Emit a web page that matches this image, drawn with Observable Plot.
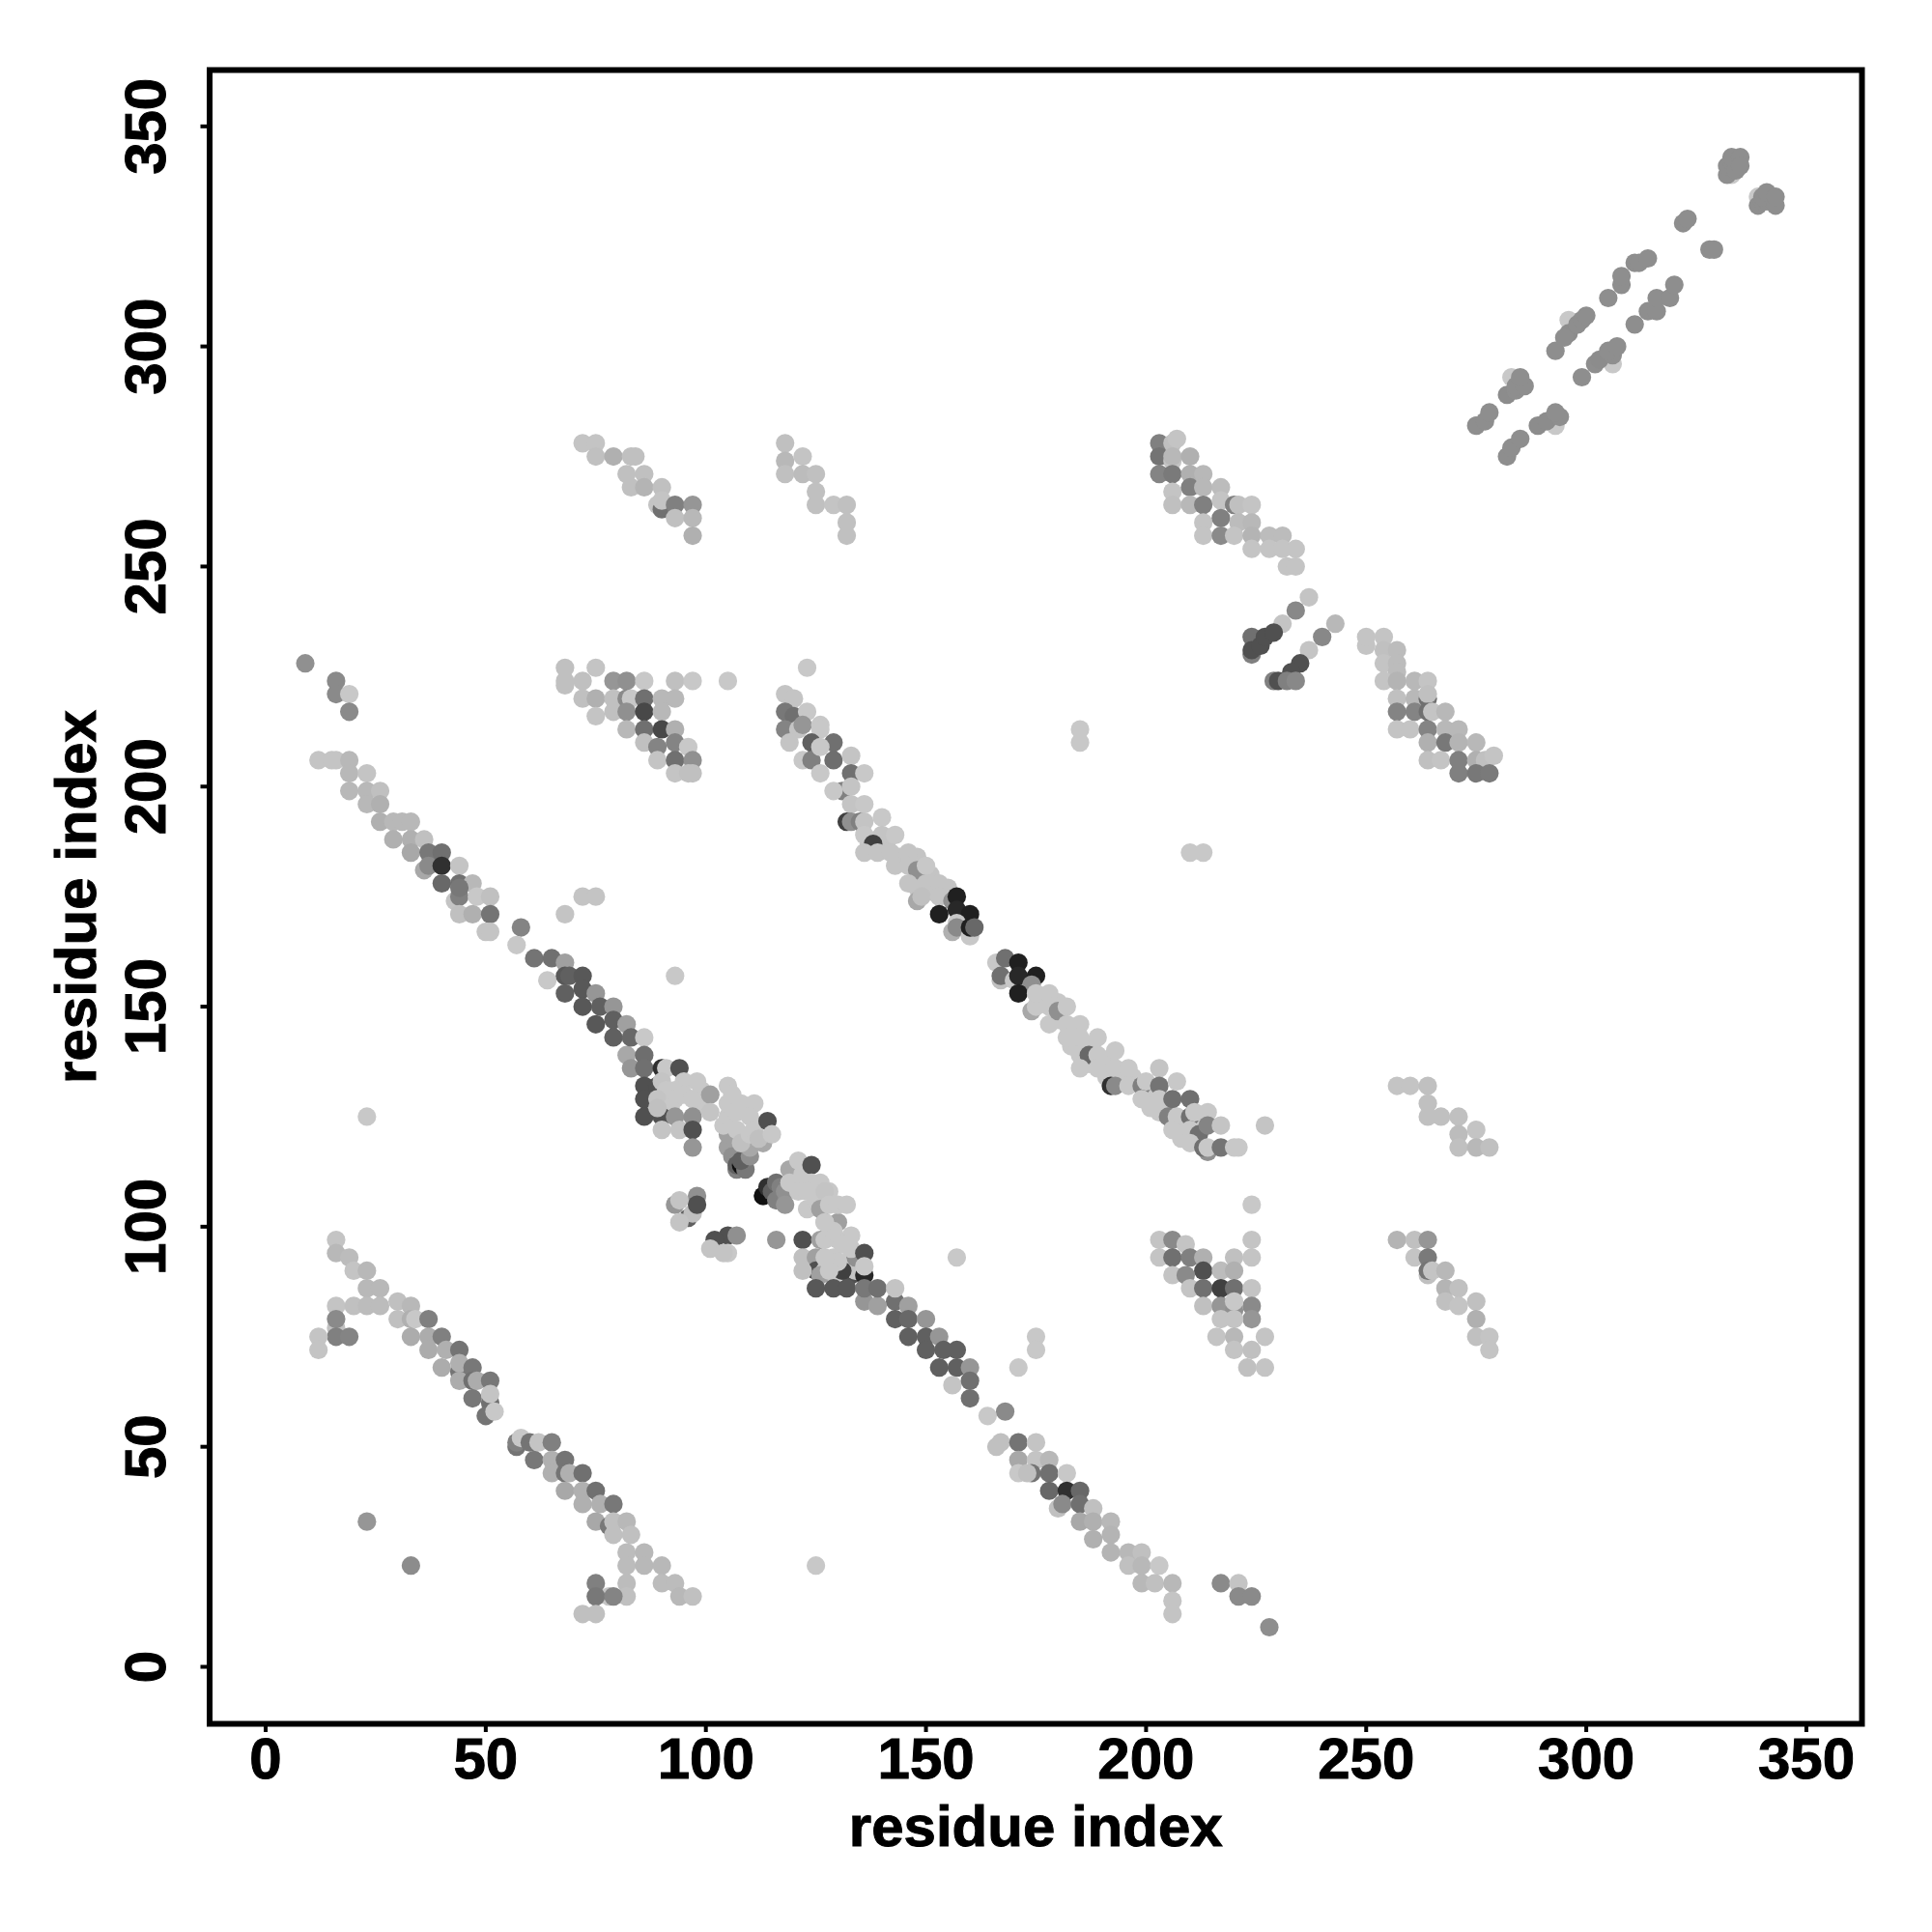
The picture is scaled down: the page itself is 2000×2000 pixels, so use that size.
<!DOCTYPE html>
<html><head><meta charset="utf-8">
<style>html,body{margin:0;padding:0;background:#fff}svg{display:block}svg text{stroke:#000;stroke-width:1px;paint-order:stroke}</style>
<script src="https://cdn.jsdelivr.net/npm/d3@7"></script>
<script src="https://cdn.jsdelivr.net/npm/@observablehq/plot@0.6"></script>
</head><body><div id="chart"></div>
<script>
// each point: [residue i, residue j, shade score 0 (darkest) .. 100 (lightest)]
const arcLow = [[16,97,98],[16,94,92],[19,93,94],[20,90,98],[23,90,92],[23,86,92],[26,86,92],[16,82,98],[20,82,96],[23,82,94],[26,82,94],[30,83,96],[33,82,92],[30,79,96],[33,79,88],[34,79,100],[37,79,64],[16,77,96],[16,79,69],[16,75,64],[19,75,66],[12,75,98],[12,72,98],[33,75,86],[37,75,86],[37,72,86],[40,75,64],[41,72,88],[44,72,58],[40,68,86],[44,67,58],[44,69,88],[44,65,86],[47,68,60],[47,65,56],[48,65,86],[51,65,60],[47,61,60],[51,60,56],[51,62,98],[50,57,58],[52,58,100],[57,50,58],[57,51,64],[58,52,100],[60,51,58],[62,51,98],[61,47,60],[65,51,64],[66,46,58],[65,47,88],[65,44,88],[68,47,58],[68,44,58],[69,44,88],[72,44,56],[68,40,84],[72,40,88],[75,40,56],[72,37,88],[76,37,88],[79,37,60],[75,33,84],[78,32,60],[79,33,96],[82,33,92],[79,30,96],[83,30,96],[82,26,94],[86,26,92],[82,23,94],[86,23,92],[90,23,92],[82,19,94],[90,19,94],[93,19,94],[82,16,96],[94,16,92],[97,16,96],[78,16,98],[75,19,64],[75,16,60],[79,16,66],[72,12,96],[75,12,96],[23,33,75],[33,23,70]];

const arcMid = [[116,97,75],[122,97,40],[126,97,80],[130,101,80],[127,101,98],[130,97,100],[133,98,100],[122,93,96],[125,93,80],[125,90,40],[129,93,100],[133,93,100],[122,90,96],[127,90,98],[129,89,100],[133,89,40],[134,90,98],[131,90,32],[126,89,80],[134,93,72],[127,97,100],[129,99,100],[131,96,100],[130,92,100],[127,93,100],[128,90,100],[133,95,100],[136,94,40],[136,89,20],[136,91,100],[125,86,44],[129,86,44],[132,86,44],[136,83,75],[136,86,60],[139,82,80],[139,86,56],[143,83,56],[143,86,98],[146,82,80],[143,79,48],[146,79,52],[150,79,75],[146,75,48],[150,75,48],[153,75,75],[150,72,48],[154,72,48],[157,72,48],[153,68,48],[157,68,48],[160,68,75],[156,64,98],[160,65,56],[160,61,56],[164,57,100],[168,58,69],[167,51,96],[166,50,96],[171,51,58],[175,51,98],[171,47,84],[175,47,98],[178,47,92],[171,44,100],[174,44,58],[173,44,96],[178,44,56],[182,44,100],[178,40,52],[182,40,24],[185,40,52],[180,36,96],[181,37,69],[185,37,56],[188,36,96],[185,33,84],[188,33,88],[192,33,92],[188,29,88],[192,30,90],[192,26,90],[196,26,92],[199,26,96],[196,23,96],[199,23,92],[203,23,100],[199,19,92],[202,19,96],[206,19,92],[206,15,98],[206,12,98],[217,19,69],[221,19,98],[221,16,69],[224,16,69],[228,9,71],[125,23,100],[157,93,100],[175,75,100],[175,72,100],[171,68,100]];

const blockLow = [[203,97,98],[203,93,98],[206,97,69],[209,96,98],[206,93,56],[206,89,98],[210,93,64],[209,89,69],[213,93,88],[213,90,40],[210,86,98],[213,86,56],[217,90,94],[220,93,96],[220,90,88],[217,86,32],[220,86,56],[224,105,100],[224,97,98],[224,93,98],[224,86,98],[224,82,69],[224,79,75],[213,82,96],[217,82,75],[220,81,72],[220,83,100],[217,79,98],[220,79,98],[216,75,98],[220,75,92],[227,75,98],[220,72,98],[224,72,96],[223,68,96],[227,68,98],[105,98,40],[107,98,72],[105,94,100]];

const diagHigh = [[9,228,72],[16,224,69],[16,221,69],[19,221,100],[19,217,69],[12,206,98],[15,206,98],[16,206,98],[19,206,92],[19,203,92],[23,203,98],[19,199,92],[23,199,92],[26,199,96],[23,196,92],[26,196,88],[26,192,88],[29,192,92],[31,192,92],[33,192,92],[29,188,88],[33,188,88],[36,188,96],[33,185,84],[37,185,60],[40,185,56],[36,181,84],[37,182,69],[40,182,24],[44,182,98],[40,178,52],[44,178,56],[47,178,92],[43,174,98],[44,175,64],[44,177,60],[48,175,100],[51,175,96],[44,171,96],[47,171,88],[51,171,58],[50,167,98],[51,167,98],[58,168,66],[57,164,100],[61,161,58],[65,161,56],[68,160,80],[64,156,100],[68,157,44],[69,157,48],[72,157,44],[68,153,48],[72,154,44],[75,153,75],[72,150,44],[76,150,48],[79,150,75],[75,146,44],[79,147,48],[79,143,48],[82,146,80],[82,139,84],[83,143,52],[86,143,100],[83,136,75],[86,139,55],[86,136,56],[86,132,40],[86,129,40],[86,125,40],[90,136,24],[91,136,100],[94,136,40],[89,132,40],[90,133,98],[95,133,100],[91,131,100],[93,131,100],[98,133,100],[95,130,100],[99,131,100],[99,128,100],[89,129,98],[93,129,100],[97,129,100],[92,127,100],[90,125,40],[89,127,96],[93,125,75],[97,125,72],[90,122,98],[94,122,98],[97,122,40],[97,118,75],[101,130,80],[101,126,98],[68,171,98],[72,175,98],[75,175,98],[93,157,100],[23,125,100]];

const knotA = [[105,118,80],[105,121,80],[106,116,72],[107,113,64],[107,114,48],[108,114,8],[109,113,60],[108,115,48],[110,116,72],[110,118,84],[113,119,84],[104,123,100],[105,125,100],[105,128,100],[105,132,100],[106,130,100],[107,126,100],[107,122,100],[108,128,100],[108,119,96],[111,128,100],[110,125,100],[110,121,100],[111,122,100],[112,120,96],[114,124,40],[115,121,100]];

const knotB = [[113,107,48],[113,107,8],[114,109,24],[115,108,48],[116,106,64],[116,110,56],[117,109,64],[118,108,72],[118,105,75],[119,113,84],[121,115,100],[119,110,100],[121,110,100],[121,108,100],[122,112,100],[124,114,40],[124,110,100],[123,108,100],[123,104,100],[125,106,100],[126,110,100],[128,108,100],[127,108,98],[126,104,80],[128,105,100],[130,105,100],[132,105,100],[127,101,100],[93,105,75],[94,106,98],[96,102,48],[97,103,96],[94,101,98],[98,107,72],[98,105,40],[102,97,40],[101,95,98],[104,94,98]];

const diagUpper = [[137,187,100],[141,187,98],[144,184,98],[148,184,98],[151,180,98],[155,177,98],[148,177,98],[152,176,98],[176,151,100],[180,151,100],[180,147,100],[184,145,100],[187,141,100],[183,141,100],[187,137,100],[191,138,100],[191,134,100],[194,134,100],[197,134,100],[201,131,100],[201,127,100],[205,127,100],[208,123,100],[212,124,100],[208,120,100],[118,221,98],[120,220,98],[123,227,100],[118,217,60],[120,216,56],[123,217,100],[118,213,66],[121,213,98],[122,214,75],[126,214,100],[126,213,100],[119,210,98],[124,210,48],[122,206,100],[124,206,64],[129,210,56],[129,206,55],[126,209,100],[126,203,100],[133,207,98],[133,203,56],[136,203,100],[131,199,64],[129,199,100],[133,200,98],[133,196,98],[136,196,100],[132,192,32],[133,192,72],[135,192,64],[136,192,98],[140,193,100],[136,189,100],[140,189,98],[143,189,100],[138,187,32],[136,185,98],[139,185,98],[142,185,98],[146,185,98],[143,182,98],[146,182,98],[148,181,72],[150,182,100],[146,178,98],[150,178,98],[153,178,98],[148,174,84],[149,175,96],[153,175,98],[156,174,72],[157,175,16],[153,171,16],[157,172,20],[160,171,16],[157,169,100],[156,167,88],[157,168,69],[160,166,100],[160,168,16],[161,168,52],[166,160,100],[168,161,56],[171,160,16],[167,156,96],[167,157,56],[170,156,100],[171,157,20],[175,157,16],[174,155,72],[171,153,16],[174,149,84],[175,150,100],[175,153,100],[178,153,100],[178,150,100],[178,146,100],[180,149,72],[182,150,100],[182,146,100],[185,146,100],[182,143,100],[185,143,100],[189,143,100],[185,139,100],[187,139,52],[189,139,100],[193,140,100],[185,136,100],[189,136,100],[193,136,100],[196,136,100],[192,132,24],[193,132,69],[196,132,100],[199,132,64],[200,133,100],[203,136,98],[203,132,58],[207,133,100],[199,129,100],[203,129,100],[206,129,56],[210,129,56],[203,126,100],[205,125,64],[207,125,100],[210,125,56],[211,126,100],[214,126,100],[206,122,100],[210,122,100],[212,121,56],[214,123,66],[217,123,98],[210,119,100],[214,117,72],[213,118,56],[214,118,100],[217,118,58],[220,118,100],[221,118,100],[227,123,98],[185,213,100],[185,210,100],[210,185,100],[213,185,100]];

const blockUpL = [[68,227,96],[75,227,98],[68,224,96],[72,224,96],[68,223,96],[79,224,75],[82,224,72],[86,224,100],[93,224,96],[97,224,100],[105,224,100],[72,220,96],[75,220,88],[79,220,96],[82,220,69],[83,220,100],[86,220,56],[90,220,92],[93,220,92],[75,216,98],[79,217,96],[82,217,72],[86,217,36],[90,217,92],[82,213,92],[86,213,56],[90,213,36],[93,213,88],[86,210,96],[89,209,66],[93,210,66],[96,209,100],[89,206,98],[93,206,56],[97,206,72],[93,203,98],[96,203,96],[97,203,96]];

const blockTopL = [[72,278,98],[75,278,98],[75,275,96],[79,275,88],[83,275,96],[84,275,96],[82,271,96],[86,271,96],[83,268,96],[86,268,90],[90,268,96],[89,264,98],[90,263,56],[90,265,98],[93,264,64],[97,264,75],[93,261,96],[97,261,92],[97,257,88],[118,278,96],[118,274,92],[118,271,96],[122,275,98],[122,271,94],[125,271,96],[125,267,96],[125,264,96],[129,264,98],[132,264,96],[132,260,96],[132,257,96]];

const blockTopR = [[203,278,64],[203,275,58],[203,271,66],[206,278,96],[207,279,98],[206,274,98],[206,275,92],[206,271,61],[210,275,88],[206,267,98],[210,271,88],[210,268,64],[213,271,92],[213,268,92],[206,264,96],[210,264,92],[213,264,64],[217,268,94],[217,265,98],[213,260,98],[213,257,98],[217,261,64],[217,257,69],[220,264,64],[221,264,96],[224,264,98],[221,260,94],[224,260,92],[220,257,98],[224,257,90],[224,254,98],[228,257,94],[231,257,94],[228,254,98],[231,254,98],[234,254,98],[232,250,98],[234,250,98]];

const strand = [[237,243,98],[234,240,68],[231,237,98],[224,234,56],[224,230,64],[224,231,40],[226,232,40],[227,234,40],[229,235,40],[243,237,92],[240,234,68],[237,231,98],[235,228,40],[233,226,40],[229,224,64],[230,224,40],[232,224,64],[234,224,68]];

const blockRight = [[250,232,98],[250,234,98],[254,234,98],[254,231,96],[257,231,94],[254,228,98],[257,228,94],[257,226,94],[254,224,98],[257,224,90],[261,224,92],[264,224,98],[257,220,96],[261,220,92],[264,220,56],[264,221,96],[257,217,66],[261,217,66],[264,217,56],[265,217,98],[268,217,92],[257,213,98],[260,213,98],[264,213,66],[268,213,92],[271,213,92],[264,210,88],[268,210,60],[271,210,90],[275,210,92],[264,206,96],[267,206,98],[271,206,64],[275,206,88],[277,206,96],[279,207,98],[271,203,64],[275,203,60],[278,203,61]];

const blockEdge = [[257,132,98],[260,132,98],[264,132,96],[264,128,96],[264,125,96],[267,125,96],[271,125,96],[271,121,94],[275,122,98],[271,118,96],[275,118,92],[278,118,96],[257,97,90],[261,97,96],[264,97,75],[261,93,98],[264,93,61],[264,89,96],[264,90,58],[265,90,98],[268,90,92],[268,86,90],[271,86,96],[268,83,96],[271,82,98],[275,83,96],[275,79,88],[275,75,96],[278,75,98],[278,72,98]];

const strandTop = [[275,282,71],[277,283,71],[278,285,71],[282,275,71],[283,277,71],[285,279,71],[282,289,70],[284,290,71],[283,293,100],[284,291,71],[286,291,71],[285,293,71],[293,282,100],[289,282,70],[291,283,70],[294,284,71],[293,285,71],[293,299,71],[299,293,71],[296,306,100],[296,303,70],[295,302,71],[298,305,71],[299,306,71],[300,307,71],[306,296,100],[302,296,71],[303,297,70],[306,298,71],[305,299,71],[307,300,71],[305,311,71],[311,305,71],[308,314,71],[308,316,71],[311,319,71],[312,319,71],[314,320,71],[314,308,71],[316,308,71],[316,311,71],[319,311,71],[320,314,71],[322,328,71],[323,329,71],[328,322,71],[329,322,71],[333,339,100],[332,339,71],[332,341,71],[333,342,71],[334,340,71],[333,343,71],[335,343,71],[335,341,71],[339,334,100],[339,332,71],[340,333,71],[341,333,71],[340,334,71],[341,335,71],[343,332,71],[343,334,71]];

const groups = [arcLow, blockLow, arcMid, knotB, diagHigh, knotA, diagUpper, blockUpL, blockTopL, blockTopR, strand, blockRight, blockEdge, strandTop];
const points = groups.flat().map(([i, j, score]) => ({i, j, score}));

const xDomain = [-12.73, 362.63];
const yDomain = [-12.95, 362.8];
const xTicks = [0, 50, 100, 150, 200, 250, 300, 350];
const yTicks = [0, 50, 100, 150, 200, 250, 300, 350];
const fontFamily = "'Liberation Sans', Arial, sans-serif";
const shade = t => { const g = Math.round(200 * t); return `rgb(${g},${g},${g})`; };

const chart = Plot.plot({
  width: 2000, height: 2000,
  marginLeft: 216.5, marginRight: 73, marginTop: 72, marginBottom: 216,
  style: {background: "#fff", fontFamily, fontWeight: "bold", color: "#000"},
  x: {domain: xDomain, ticks: xTicks},
  y: {domain: yDomain, ticks: yTicks},
  color: {type: "linear", domain: [0, 100], interpolate: shade},
  marks: [
    Plot.dot(points, {x: "i", y: "j", fill: "score", r: 9.6, stroke: "none"}),
    Plot.frame({stroke: "#000", strokeWidth: 6}),
    Plot.axisX({ticks: xTicks, tickSize: 9, tickPadding: 5, strokeWidth: 4, fontSize: 60, fontWeight: "bold", label: null, tickFormat: d => String(d)}),
    Plot.axisY({ticks: yTicks, tickSize: 9, tickPadding: 37, strokeWidth: 4, fontSize: 60, fontWeight: "bold", label: null, tickRotate: -90, tickFormat: d => String(d)}),
    Plot.text(["residue index"], {frameAnchor: "bottom", dy: 126, fontSize: 60, fontWeight: "bold", fill: "#000", text: d => d}),
    Plot.text(["residue index"], {frameAnchor: "left", textAnchor: "middle", dx: -137, rotate: -90, fontSize: 60, fontWeight: "bold", fill: "#000", text: d => d})
  ]
});
document.getElementById("chart").append(chart);
</script></body></html>
